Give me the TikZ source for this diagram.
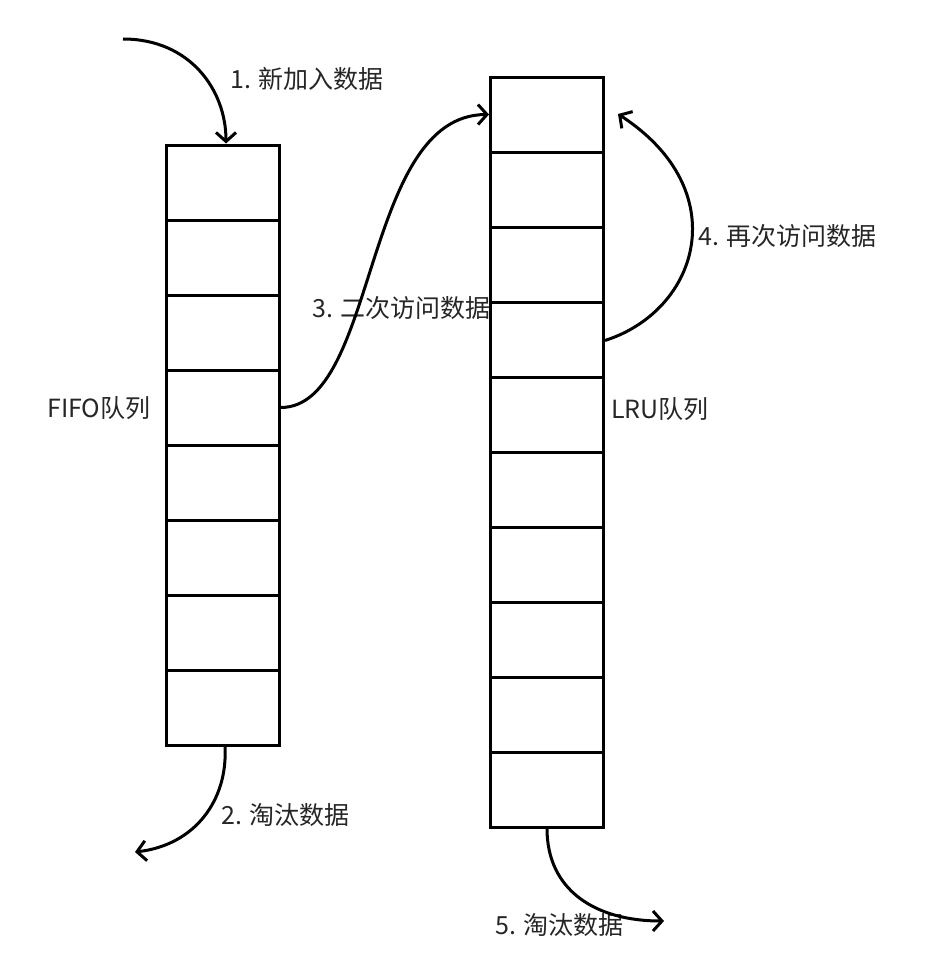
\documentclass[tikz,border=0pt]{standalone}
\usepackage{fontspec}
\setmainfont{Noto Sans CJK SC}
\usetikzlibrary{arrows.meta}
\tikzset{
  cell/.style={draw, line width=3pt, minimum width=113pt, minimum height=75pt, inner sep=0pt},
  flow/.style={line width=3pt, -{Straight Barb[length=9pt,width=20pt,line width=3pt]}},
  lbl/.style={anchor=west, inner sep=0pt, font=\fontsize{25}{30}\selectfont, text=black!85}
}
\begin{document}
\begin{tikzpicture}[x=1pt, y=-1pt]
\useasboundingbox (0,0) rectangle (934,966);
% FIFO queue
\node[cell] (f1) at (222.5,182.5) {};
\node[cell] (f2) at (222.5,257.5) {};
\node[cell] (f3) at (222.5,332.5) {};
\node[cell] (f4) at (222.5,407.5) {};
\node[cell] (f5) at (222.5,482.5) {};
\node[cell] (f6) at (222.5,557.5) {};
\node[cell] (f7) at (222.5,632.5) {};
\node[cell] (f8) at (222.5,707.5) {};
% LRU queue
\node[cell] (l1) at (547,114.5) {};
\node[cell] (l2) at (547,189.5) {};
\node[cell] (l3) at (547,264.5) {};
\node[cell] (l4) at (547,339.5) {};
\node[cell] (l5) at (547,414.5) {};
\node[cell] (l6) at (547,489.5) {};
\node[cell] (l7) at (547,564.5) {};
\node[cell] (l8) at (547,639.5) {};
\node[cell] (l9) at (547,714.5) {};
\node[cell] (l10) at (547,789.5) {};
% labels
\node[lbl] (fifo) at (47,408) {FIFO队列};
\node[lbl] (lru) at (611,409) {LRU队列};
\node[lbl] (t1) at (230,79) {1. 新加入数据};
\node[lbl] (t2) at (221,815) {2. 淘汰数据};
\node[lbl] (t3) at (312,308) {3. 二次访问数据};
\node[lbl] (t4) at (698,236) {4. 再次访问数据};
\node[lbl] (t5) at (495,925) {5. 淘汰数据};
% free ends
\coordinate (in) at (123,39);
\coordinate (out1) at (135,852);
\coordinate (back) at (618,114);
\coordinate (out2) at (664,921);
% arrows
\draw[flow] (in) .. controls (190,39) and (226,90) .. ([xshift=3.5pt]f1.north);
\draw[flow] ([xshift=2.5pt]f8.south) .. controls (228,800) and (195,845) .. (out1);
\draw[flow] (f4.east) .. controls (378,408) and (362,115) .. (l1.west);
\draw[flow] ([yshift=-1pt]l4.east) .. controls (700,310) and (735,190) .. (back);
\draw[flow] (l10.south) .. controls (547,890) and (595,921) .. (out2);
\end{tikzpicture}
\end{document}
